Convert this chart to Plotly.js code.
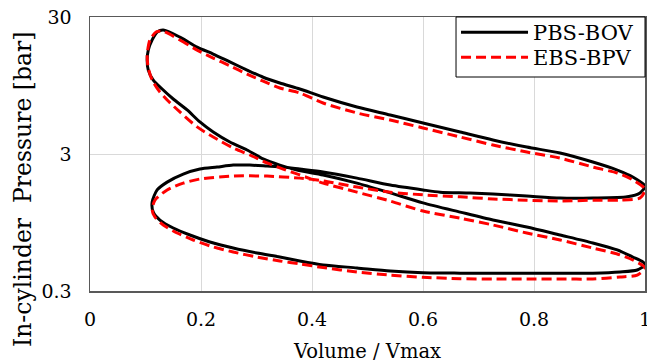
<!DOCTYPE html>
<html>
<head>
<meta charset="utf-8">
<script src="https://cdn.plot.ly/plotly-3.0.1.min.js"></script>
<style>
  html, body { margin: 0; padding: 0; background: #fff; }
  #chart { width: 647px; height: 363px; }
</style>
</head>
<body>
<div id="chart"></div>
<script>
// ---- Data ----
const seriesNames = ['PBS-BOV', 'EBS-BPV'];

const volPBS = [
  0.132,0.162,0.193,0.222,0.252,0.283,0.312,0.342,0.378,0.420,0.481,0.541,0.600,0.667,0.726,0.787,0.847,0.906,0.950,0.978,1.000,
  0.991,0.968,0.906,0.847,0.787,0.726,0.685,0.631,0.600,0.541,0.481,0.420,0.378,0.348,0.319,0.288,0.258,0.229,0.198,0.168,0.139,0.121,0.112,
  0.114,0.126,0.150,0.180,0.216,0.258,0.301,0.342,0.378,0.420,0.481,0.541,0.600,0.667,0.726,0.787,0.847,0.906,0.955,0.986,1.000,
  0.996,0.978,0.950,0.906,0.847,0.787,0.726,0.667,0.600,0.541,0.481,0.420,0.373,0.342,0.312,0.283,0.252,0.222,0.198,0.175,0.150,0.130,0.114,0.105,0.103,0.105,0.112,0.121,0.132
];
const presPBS = [
  24.1,21.4,18.1,16.1,14.1,12.3,10.9,9.89,8.94,7.82,6.61,5.78,5.05,4.34,3.80,3.37,3.05,2.62,2.29,2.04,1.75,
  1.56,1.46,1.43,1.43,1.48,1.53,1.56,1.58,1.64,1.78,2.00,2.22,2.33,2.41,2.45,2.49,2.49,2.41,2.33,2.14,1.87,1.64,1.34,
  1.13,0.989,0.865,0.769,0.684,0.618,0.568,0.531,0.497,0.465,0.442,0.420,0.408,0.405,0.404,0.404,0.404,0.405,0.413,0.427,0.465,
  0.489,0.531,0.598,0.673,0.769,0.880,0.989,1.13,1.32,1.56,1.84,2.11,2.29,2.49,2.76,3.21,3.67,4.34,5.14,6.29,7.56,8.94,10.4,12.3,14.6,17.2,20.4,23.3,24.1
];

const volEBS = [
  0.130,0.162,0.193,0.222,0.252,0.283,0.312,0.342,0.378,0.420,0.481,0.541,0.600,0.667,0.726,0.787,0.847,0.906,0.950,0.978,1.000,
  0.991,0.955,0.906,0.847,0.787,0.726,0.667,0.600,0.541,0.481,0.420,0.378,0.319,0.258,0.198,0.168,0.139,0.117,0.112,
  0.117,0.132,0.157,0.186,0.222,0.258,0.301,0.342,0.378,0.420,0.481,0.541,0.600,0.667,0.726,0.787,0.847,0.906,0.955,0.986,1.000,
  0.978,0.950,0.906,0.847,0.787,0.726,0.667,0.600,0.541,0.481,0.420,0.378,0.348,0.319,0.288,0.258,0.222,0.193,0.162,0.139,0.123,0.112,0.105,0.103,0.108,0.119,0.130
];
const presEBS = [
  23.7,20.4,17.2,15.05,13.2,11.5,10.2,9.10,8.36,7.07,5.98,5.31,4.65,3.99,3.49,3.10,2.80,2.41,2.18,1.94,1.66,
  1.43,1.38,1.38,1.36,1.38,1.41,1.46,1.51,1.58,1.72,1.91,2.00,2.07,2.07,1.97,1.84,1.64,1.38,1.17,
  1.04,0.910,0.795,0.707,0.629,0.578,0.531,0.497,0.473,0.445,0.413,0.392,0.378,0.369,0.367,0.367,0.367,0.367,0.380,0.392,0.442,
  0.505,0.559,0.618,0.707,0.795,0.910,1.02,1.15,1.36,1.58,1.84,2.11,2.33,2.58,2.95,3.32,3.99,4.73,6.08,7.44,8.80,10.4,12.7,15.8,20.4,23.3,23.7
];

const xTickVals = [0, 0.2, 0.4, 0.6, 0.8, 1];
const xTickText = ['0', '0.2', '0.4', '0.6', '0.8', '1'];
const yTickVals = [0.3, 3, 30];
const yTickText = ['0.3', '3', '30'];
const xTitle = 'Volume / Vmax';
const yTitle = 'In-cylinder\u00a0 Pressure [bar]';

// ---- Chart ----
const FONT = 'DejaVu Serif';
const legendFont = {family: FONT, size: 21, color: '#000000'};

const traces = [
  {
    x: volPBS, y: presPBS, name: seriesNames[0], type: 'scatter', mode: 'lines',
    line: {color: '#000000', width: 3, shape: 'spline', smoothing: 0.7},
    legend: 'legend', hoverinfo: 'skip'
  },
  {
    x: volEBS, y: presEBS, name: seriesNames[1], type: 'scatter', mode: 'lines',
    line: {color: '#ff0000', width: 3, dash: '10px,5px', shape: 'spline', smoothing: 0.7},
    legend: 'legend2', hoverinfo: 'skip'
  }
];

const layout = {
  width: 647, height: 363,
  margin: {l: 90, r: 2, t: 17, b: 72, pad: 0},
  paper_bgcolor: '#ffffff', plot_bgcolor: '#ffffff',
  font: {family: FONT, size: 19, color: '#000000'},
  showlegend: true,
  xaxis: {
    range: [0, 1], tickmode: 'array', tickvals: xTickVals, ticktext: xTickText,
    showgrid: true, gridcolor: '#d9d9d9', gridwidth: 1,
    showline: true, linecolor: '#595959', linewidth: 1.5, mirror: true,
    ticks: '', zeroline: false, ticklabelstandoff: 11, ticklabeloverflow: 'allow',
    tickfont: {family: FONT, size: 19, color: '#000000'},
    title: {text: xTitle, font: {family: FONT, size: 19.5, color: '#000000'}, standoff: 15}
  },
  yaxis: {
    type: 'log', range: [Math.log10(0.3), Math.log10(30)],
    tickmode: 'array', tickvals: yTickVals, ticktext: yTickText,
    showgrid: true, gridcolor: '#d9d9d9', gridwidth: 1,
    showline: true, linecolor: '#595959', linewidth: 1.5, mirror: true,
    ticks: '', zeroline: false, ticklabelstandoff: 13, ticklabeloverflow: 'allow',
    tickfont: {family: FONT, size: 19, color: '#000000'}
  },
  legend: {
    x: 0.6595, xanchor: 'left', y: 1.0182, yanchor: 'top',
    bgcolor: 'rgba(0,0,0,0)', borderwidth: 0,
    font: legendFont, itemwidth: 67
  },
  legend2: {
    x: 0.6595, xanchor: 'left', y: 0.9270, yanchor: 'top',
    bgcolor: 'rgba(0,0,0,0)', borderwidth: 0,
    font: legendFont, itemwidth: 67
  },
  shapes: [{
    type: 'rect', xref: 'paper', yref: 'paper', layer: 'above',
    x0: 0.6595, x1: 1, y0: 0.7810, y1: 1,
    line: {color: '#000000', width: 1}, fillcolor: '#ffffff'
  }],
  annotations: [{
    text: yTitle, textangle: -90, xref: 'paper', yref: 'paper',
    x: -0.1207, y: 0.372, xanchor: 'center', yanchor: 'middle', showarrow: false,
    font: {family: FONT, size: 23.5, color: '#000000'}
  }]
};

Plotly.newPlot('chart', traces, layout, {staticPlot: true, displayModeBar: false});
</script>
</body>
</html>
